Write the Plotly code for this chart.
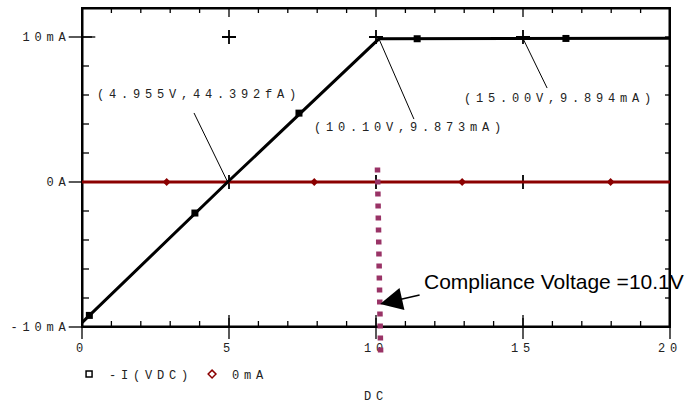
import plotly.graph_objects as go

# ---- data ----
# -I(VDC) trace (mA vs DC volts)
v_curve = [0.0, 4.955, 10.10, 15.00, 20.0]
i_curve = [-9.7, 0.0, 9.873, 9.894, 9.91]
v_curve_marks = [0.25, 3.84, 7.38, 11.40, 16.46]
i_curve_marks = [-9.2, -2.14, 4.75, 9.88, 9.90]

# 0mA reference trace
v_zero = [0.0, 20.0]
i_zero = [0.0, 0.0]
v_zero_marks = [2.88, 7.90, 12.93, 17.98]
i_zero_marks = [0.0, 0.0, 0.0, 0.0]

# axes
x_range = [0, 20]
y_range = [-10, 12]
x_tickvals = [0, 5, 10, 15, 20]
x_ticktext = ["0", "5", "10", "15", "20"]
x_minor = list(range(0, 21, 1))
y_tickvals = [-10, 0, 10]
y_ticktext = ["-10mA", "0A", "10mA"]
y_minor = list(range(-10, 13, 2))
grid_x = [5, 10, 15]
grid_y = [0, 10]

compliance_v = 10.1

MONO = "Liberation Mono, Courier New, monospace"
SANS = "Liberation Sans, Arial, sans-serif"
RED = "#8b0000"
PLUM = "#993366"

W, H = 686, 404
ML, MR, MT, MB = 82, 16, 8, 77
PX_X = (W - ML - MR) / (x_range[1] - x_range[0])   # pixels per volt
PX_Y = (H - MT - MB) / (y_range[1] - y_range[0])   # pixels per mA


def sp(t, s=4.8):
    return f'<span style="letter-spacing:{s}px">{t}</span>'


fig = go.Figure()

# plot frame (drawn as a trace; half of its width is inside the plot area)
fig.add_trace(go.Scatter(
    x=[x_range[0], x_range[1], x_range[1], x_range[0], x_range[0]],
    y=[y_range[0], y_range[0], y_range[1], y_range[1], y_range[0]],
    mode="lines", line=dict(color="black", width=3),
    showlegend=False, hoverinfo="skip"))

# inward tick marks on all four sides
tx, ty = [], []
for v in x_minor:
    major = v in x_tickvals
    lb = (9 if major else 6) / PX_Y
    lt = (9 if major else 5) / PX_Y
    tx += [v, v, None, v, v, None]
    ty += [y_range[0], y_range[0] + lb, None, y_range[1], y_range[1] - lt, None]
for m in y_minor:
    major = m in y_tickvals
    ll = (10 if major else 7) / PX_X
    lr = 5 / PX_X
    tx += [x_range[0], x_range[0] + ll, None, x_range[1], x_range[1] - lr, None]
    ty += [m, m, None, m, m, None]
fig.add_trace(go.Scatter(x=tx, y=ty, mode="lines", line=dict(color="black", width=1.3),
                         showlegend=False, hoverinfo="skip"))

# grid crosses at major intersections
fig.add_trace(go.Scatter(
    x=[gx for gx in grid_x for gy in grid_y],
    y=[gy for gx in grid_x for gy in grid_y],
    mode="markers",
    marker=dict(symbol="cross-thin", size=10, line=dict(width=1.8, color="black")),
    showlegend=False, hoverinfo="skip"))

# outward halves of the major ticks (bottom and left axes)
fig.add_trace(go.Scatter(
    x=x_tickvals, y=[y_range[0]] * len(x_tickvals), mode="markers", cliponaxis=False,
    marker=dict(symbol="line-ns", size=17, line=dict(width=1.3, color="black")),
    showlegend=False, hoverinfo="skip"))
fig.add_trace(go.Scatter(
    x=[x_range[0]] * len(y_tickvals), y=y_tickvals, mode="markers", cliponaxis=False,
    marker=dict(symbol="line-ew", size=19, line=dict(width=1.3, color="black")),
    showlegend=False, hoverinfo="skip"))

# 0mA trace
fig.add_trace(go.Scatter(x=v_zero, y=i_zero, mode="lines",
                         line=dict(color=RED, width=3), showlegend=False))
fig.add_trace(go.Scatter(x=v_zero_marks, y=i_zero_marks, mode="markers",
                         marker=dict(symbol="diamond", size=6, color=RED),
                         showlegend=False))

# -I(VDC) trace
fig.add_trace(go.Scatter(x=v_curve, y=i_curve, mode="lines",
                         line=dict(color="black", width=3), showlegend=False))
fig.add_trace(go.Scatter(x=v_curve_marks, y=i_curve_marks, mode="markers",
                         marker=dict(symbol="square", size=7, color="black"),
                         showlegend=False))

# legend entries
fig.add_trace(go.Scatter(x=[None], y=[None], mode="markers", name=sp("-I(VDC)"),
                         marker=dict(symbol="square-open", size=6, color="black",
                                     line=dict(width=1.5, color="black"))))
fig.add_trace(go.Scatter(x=[None], y=[None], mode="markers", name=sp("0mA"),
                         marker=dict(symbol="diamond-open", size=6, color=RED,
                                     line=dict(width=1.5, color=RED))))

tickfont = dict(family=MONO, size=12, color="#222222")

fig.update_layout(
    width=W, height=H,
    margin=dict(l=ML, r=MR, t=MT, b=MB, autoexpand=False),
    paper_bgcolor="white", plot_bgcolor="white",
    showlegend=True,
    legend=dict(orientation="h", x=-0.022, xanchor="left", y=-0.102, yanchor="top",
                entrywidth=78,
                font=dict(family=MONO, size=12, color="#222222"),
                bgcolor="rgba(0,0,0,0)", itemclick=False),
    xaxis=dict(range=x_range, tickmode="array", tickvals=x_tickvals,
               ticktext=[sp(t) for t in x_ticktext], ticks="",
               showline=True, linecolor="black", linewidth=1, mirror=True,
               showgrid=False, zeroline=False, tickfont=tickfont, ticklabelstandoff=10,
               title=dict(text=sp("DC"), font=tickfont, standoff=40)),
    yaxis=dict(range=y_range, tickmode="array", tickvals=y_tickvals,
               ticktext=[sp(t) for t in y_ticktext], ticks="",
               showline=True, linecolor="black", linewidth=1, mirror=True,
               showgrid=False, zeroline=False, tickfont=tickfont, ticklabelstandoff=8),
)

# leader lines for the cursor labels
leaders = [((4.955, 0.0), (3.81, 4.76)),
           ((10.10, 9.873), (11.29, 4.34)),
           ((15.00, 9.894), (15.82, 6.48))]
for (x0, y0), (x1, y1) in leaders:
    fig.add_shape(type="line", xref="x", yref="y", x0=x0, y0=y0, x1=x1, y1=y1,
                  line=dict(color="black", width=1))

# compliance marker (dotted vertical)
fig.add_shape(type="line", xref="x", yref="paper", x0=compliance_v - 0.05, y0=0.5,
              x1=compliance_v + 0.06, y1=-0.094, layer="above",
              line=dict(color=PLUM, width=5.5, dash="5px,7px"))

labels = [("(4.955V,44.392fA)", 0.44, 6.0),
          ("(10.10V,9.873mA)", 7.82, 3.72),
          ("(15.00V,9.894mA)", 12.93, 5.72)]
for txt, lx, ly in labels:
    fig.add_annotation(x=lx, y=ly, xref="x", yref="y", text=sp(txt), showarrow=False,
                       xanchor="left", yanchor="middle", font=tickfont)

fig.add_annotation(x=11.56, y=-6.83, xref="x", yref="y", text="Compliance Voltage =10.1V",
                   showarrow=False, xanchor="left", yanchor="middle",
                   font=dict(family=SANS, size=21, color="black"))
fig.add_annotation(x=10.14, y=-8.41, xref="x", yref="y", ax=11.5, ay=-7.79,
                   axref="x", ayref="y", text="", showarrow=True, arrowhead=2,
                   arrowsize=2.8, arrowwidth=1.6, arrowcolor="black",
                   font=dict(size=1), borderpad=0)

fig.write_html("out.html")
